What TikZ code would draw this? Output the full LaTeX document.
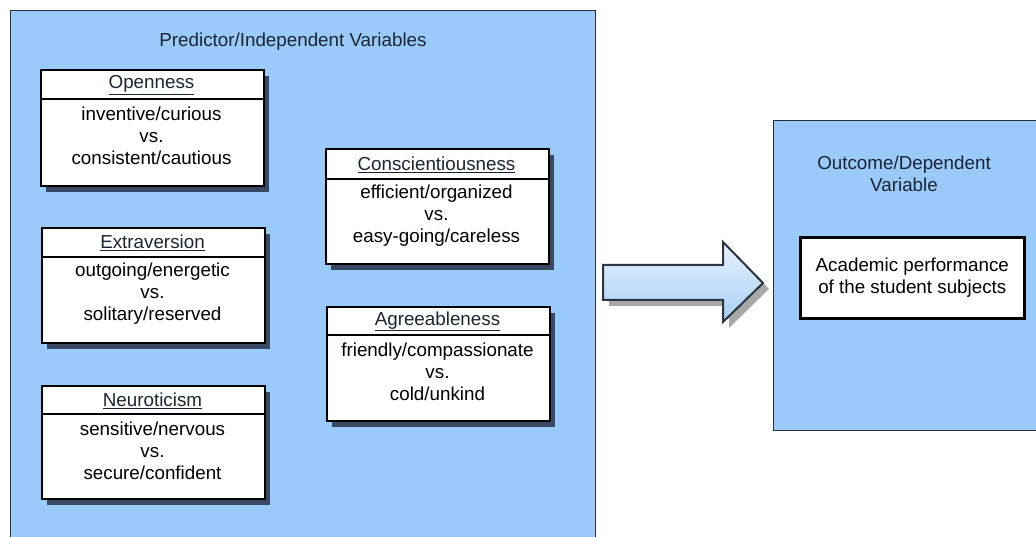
\documentclass[tikz,border=0pt]{standalone}
\usepackage{fontspec}
\setmainfont{Liberation Sans}
\usetikzlibrary{shadows}
\definecolor{panelfill}{HTML}{99CAFA}
\definecolor{paneledge}{HTML}{2A2F3A}
\definecolor{shadowcol}{HTML}{3A4963}
\definecolor{inktext}{HTML}{1E2433}
\definecolor{arrowtop}{HTML}{E8F3FE}
\definecolor{arrowbot}{HTML}{A6CEF6}
\definecolor{arrowedge}{HTML}{2C3440}
\tikzset{
  panel/.style={draw=paneledge, line width=1.3pt, fill=panelfill, anchor=north west, inner sep=0pt},
  traitbox/.style={draw=black, line width=2.2pt, fill=white, anchor=north west, inner sep=0pt,
    minimum width=223pt, drop shadow={shadow xshift=5pt, shadow yshift=-6pt, fill=shadowcol, opacity=1}},
  heading/.style={font=\fontsize{18.8}{21}\selectfont, text=inktext},
  bodytext/.style={font=\fontsize{18.8}{22}\selectfont, align=center, text=black},
  title/.style={font=\fontsize{18.8}{22}\selectfont, align=center, text=inktext},
  divider/.style={draw=black, line width=2pt},
}
\newcommand{\traitcard}[7]{%
  % #1 name, #2 left x, #3 top y, #4 divider y, #5 bottom y, #6 heading, #7 body
  \node[traitbox, minimum height={#5-#3}] (#1) at (#2,#3) {};
  \draw[divider] (#2,#4) -- (#2+223,#4);
  \node[heading] (#1-head) at ({#2+111.5},{(#3+#4)/2+1}) {\underline{#6}};
  \node[bodytext] (#1-body) at ({#2+111.5},{#4+37}) {#7};
}
\begin{document}
\begin{tikzpicture}[x=1pt,y=-1pt]
\clip (0,0) rectangle (1036,537);
\fill[white] (0,0) rectangle (1036,537);

% left panel of predictor variables
\node[panel, minimum width=585pt, minimum height=540pt] (pred) at (10,10) {};
\node[title] (predtitle) at (293,42) {Predictor/Independent Variables};

\traitcard{open}{40}{69}{99}{185}{Openness}{inventive/curious\\vs.\\consistent/cautious}
\traitcard{extra}{41}{227}{257}{342}{Extraversion}{outgoing/energetic\\vs.\\solitary/reserved}
\traitcard{neuro}{41}{385}{414}{498}{Neuroticism}{sensitive/nervous\\vs.\\secure/confident}
\traitcard{consc}{325}{148}{179}{263}{Conscientiousness}{efficient/organized\\vs.\\easy-going/careless}
\traitcard{agree}{326}{306}{335}{420}{Agreeableness}{friendly/compassionate\\vs.\\cold/unkind}

% block arrow between the panels
\coordinate (arrowtail) at (603,282.5);
\fill[black!45, opacity=0.75] ([shift={(6,6)}]arrowtail) -- ++(0,-17.5) -- ++(120,0) -- ++(0,-23) -- ++(40,41) -- ++(-40,39) -- ++(0,-22) -- ++(-120,0) -- cycle;
\draw[arrowedge, line width=2pt, top color=arrowtop, bottom color=arrowbot, line join=miter]
  (arrowtail) -- ++(0,-17.5) -- ++(120,0) -- ++(0,-23) -- ++(40,41) coordinate (arrowtip) -- ++(-40,39) -- ++(0,-22) -- ++(-120,0) -- cycle;

% right panel with the outcome variable
\node[panel, minimum width=280pt, minimum height=310pt] (outc) at (773,120) {};
\node[title] (outctitle) at (904,174) {Outcome/Dependent\\Variable};
\node[draw=black, line width=2.6pt, fill=white, anchor=north west, minimum width=224pt, minimum height=81pt, inner sep=0pt] (perf) at (799,236) {};
\node[bodytext] (perftext) at (perf.center) {Academic performance\\of the student subjects};
\end{tikzpicture}
\end{document}
